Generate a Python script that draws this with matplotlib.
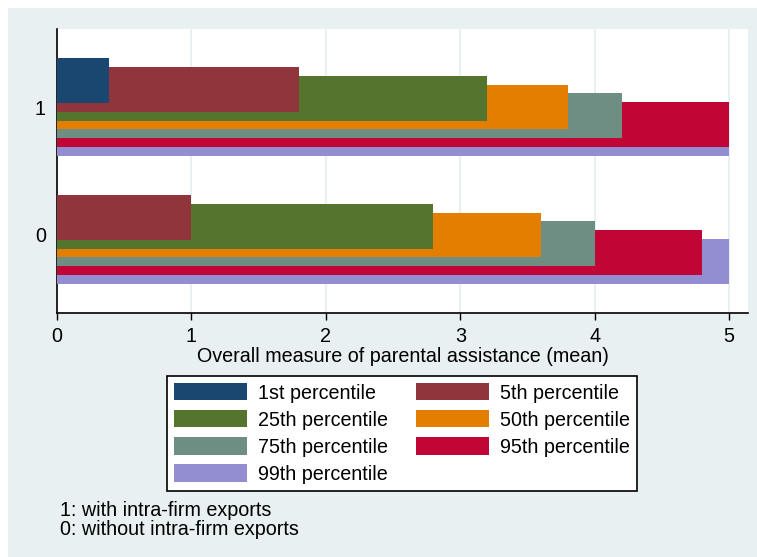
import matplotlib
matplotlib.use("Agg")
import matplotlib.pyplot as plt
from matplotlib.patches import Rectangle, Patch

plt.rcParams['font.family'] = ['Liberation Sans', 'DejaVu Sans']

groups = [1, 0]
percentiles = ['1st percentile', '5th percentile', '25th percentile', '50th percentile',
               '75th percentile', '95th percentile', '99th percentile']
# values per percentile: [group 1, group 0]
p1 = [0.39, 0.0]
p5 = [1.8, 1.0]
p25 = [3.2, 2.8]
p50 = [3.8, 3.6]
p75 = [4.2, 4.0]
p95 = [5.0, 4.8]
p99 = [5.0, 5.0]
series = [p1, p5, p25, p50, p75, p95, p99]
colors = ['#1a476f', '#90353b', '#55752f', '#e37e00', '#6e8e84', '#c10534', '#938dd2']
notes = ['1: with intra-firm exports', '0: without intra-firm exports']

fs = 14.2

fig = plt.figure(figsize=(7.57, 5.57), dpi=100)
fig.patches.append(Rectangle((8 / 757, 0), 1, 1 - 8 / 557, transform=fig.transFigure,
                             facecolor='#e8f0f2', edgecolor='none', zorder=-10))

ax = fig.add_axes([57 / 757, 1 - 313 / 557, (748 - 57) / 757, (313 - 29) / 557])
ax.set_facecolor('white')

bar_h = 0.35
step = 0.069
n = len(series)
# draw back to front so 1st percentile sits on top
for i in range(n - 1, -1, -1):
    offset = (3 - i) * step
    ax.barh([g + offset for g in groups], series[i], height=bar_h, color=colors[i],
            edgecolor='none', zorder=3 + (n - i))

ax.set_xlim(0, 5.14)
ax.set_ylim(-0.61, 1.61)
ax.set_xticks([0, 1, 2, 3, 4, 5])
ax.set_yticks([0, 1])
ax.tick_params(axis='x', length=5, width=1, labelsize=fs, pad=5)
ax.tick_params(axis='y', length=0, labelsize=fs, pad=8)
ax.xaxis.grid(True, color='#e4eef0', linewidth=1.2, zorder=0)
ax.set_axisbelow(True)
for s in ['top', 'right']:
    ax.spines[s].set_visible(False)
ax.spines['left'].set_linewidth(1.2)
ax.spines['bottom'].set_linewidth(1.2)
ax.set_xlabel('Overall measure of parental assistance (mean)', fontsize=fs, labelpad=0.8)

# legend filled column-wise, arranged so it reads row-wise
order = [0, 2, 4, 6, 1, 3, 5]
handles = [Patch(facecolor=colors[i], edgecolor='none') for i in order]
labels = [percentiles[i] for i in order]
leg = fig.legend(handles, labels, ncol=2, loc='upper left',
                 bbox_to_anchor=(167 / 757, 1 - 376 / 557), fontsize=fs,
                 frameon=True, fancybox=False, edgecolor='black', facecolor='white',
                 framealpha=1, handlelength=3.7, handleheight=0.96, handletextpad=0.55,
                 labelspacing=0.39, columnspacing=1.42, borderpad=0.37, borderaxespad=0)
leg.get_frame().set_linewidth(1.2)

fig.text(60 / 757, 1 - 516 / 557, notes[0], fontsize=fs, va='baseline', ha='left')
fig.text(60 / 757, 1 - 535 / 557, notes[1], fontsize=fs, va='baseline', ha='left')

fig.savefig('out.png', dpi=100, facecolor='white')
